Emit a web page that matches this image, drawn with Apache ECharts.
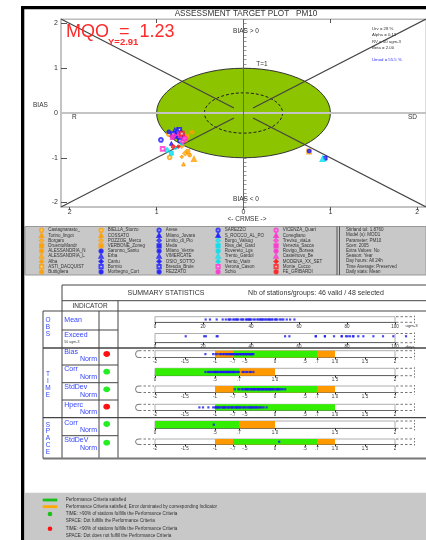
<!DOCTYPE html>
<html><head><meta charset="utf-8">
<script src="https://cdn.jsdelivr.net/npm/echarts@6/dist/echarts.min.js"></script>
<style>html,body{margin:0;padding:0;background:#fff}#c{width:426px;height:540px}</style>
</head><body><div id="c"></div>
<script>
// ---------------- DATA ----------------
const stationNames = ['Castagnarasto_','Torino_lingot','Borgaro','DruentoMandr','ALESSANDRIA_N','ALESSANDRIA_L','Alba','ASTI_DACQUIST','Buttigliera',
 'BIELLA_Sturzo','COSSATO','POZZOE_Mercu','VERBONE_Zoneg','Saronno_Santu','Erba','Cantu','Bormio','Morbegno_Cort',
 'Arese','Milano_Juvara','Limito_di_Pio','Meda','Milano_Verzie','VIMERCATE','OSIO_SOTTO','Brescia_Broie','REZZATO',
 'SAREZZO','S_ROCCO_AL_PO','Borgo_Valsug','Riva_del_Gard','Rovereto_Lgs','Trento_Gardol','Trento_Viaitr','Verona_Cason','Schio',
 'VICENZA_Quart','Conegliano','Treviso_viaLa','Venezia_Sacca','Rovigo_Borsea','Castelnovo_Be','MODENA_XX_SET','Monte_Cucco','FE_GRIBARDI'];
const stationRegion = ['PIE','PIE','PIE','PIE','PIE','PIE','PIE','PIE','PIE',
 'PIE','PIE','PIE','PIE','LOM','LOM','LOM','LOM','LOM',
 'LOM','LOM','LOM','LOM','LOM','LOM','LOM','LOM','LOM',
 'LOM','LOM','TAA','TAA','TAA','TAA','TAA','VEN','VEN',
 'VEN','VEN','VEN','VEN','VEN','VEN','EMR','EMR','EMR'];
// target plot: CRMSE (x, negative = R side) and BIAS (y)
const targetCRMSE = [-0.85,-0.69,-0.67,-0.64,-0.62,-0.57,-0.71,0.755,-0.59,
 -0.86,-0.67,-0.71,-0.65,-0.86,-0.79,-0.77,-0.74,-0.72,
 -0.95,-0.83,-0.79,0.94,0.755,-0.76,-0.70,-0.81,-0.75,
 -0.73,-0.69,-0.88,-0.83,-0.71,0.91,-0.78,-0.93,-0.80,
 -0.67,-0.75,-0.70,-0.82,-0.73,-0.68,-0.75,-0.71,-0.81];
const targetBIAS = [-0.99,-1.14,-0.90,-0.86,-0.94,-1.03,-0.98,-0.86,-0.43,
 -0.47,-0.60,-0.73,-0.52,-0.42,-0.40,-0.44,-0.38,-0.43,
 -0.60,-0.68,-0.52,-1.01,-0.85,-0.40,-0.47,-0.47,-0.55,
 -0.62,-0.50,-0.83,-0.90,-0.68,-1.03,-0.78,-0.80,-0.50,
 -0.57,-0.46,-0.64,-0.55,-0.52,-0.55,-0.75,-0.46,-0.75];
const targetAxisTicks = [-2,-1,0,1,2];
const targetGuides = [[[-2.1,2.1],[-0.11,0.11]],[[2.1,2.1],[0.11,0.11]],[[-2.1,-2.1],[-0.11,-0.11]],[[2.1,-2.1],[0.11,-0.11]]];
const targetCircles = [[0,0,1],[0,0,0.45]];

const meanValues = [21.1,22.9,25.7,28.2,29.5,30.6,31.0,31.5,32.6,33.1,33.8,34.2,34.7,35.8,36.4,36.8,37.9,38.3,38.9,39.6,40.0,41.0,41.6,42.6,43.1,43.8,44.2,44.7,45.1,45.8,46.4,47.0,47.6,47.9,48.6,49.0,50.0,50.4,51.0,52.1,52.8,53.5,54.9,56.3,58.1,39.2];
const exceedValues = [12.8,20.5,21.2,25.7,26.1,54.2,56.0,67.0,70.8,74.6,77.8,79.6,80.3,81.3,82.6,84.7,86.8,91.0,95.0,99.3,104.6,70.8,82.6,67.0,77.8];
const biasValues = [-1.16,-1.03,-0.99,-0.96,-0.92,-0.9,-0.87,-0.85,-0.82,-0.81,-0.79,-0.77,-0.76,-0.73,-0.72,-0.71,-0.69,-0.68,-0.66,-0.65,-0.63,-0.62,-0.61,-0.59,-0.58,-0.57,-0.56,-0.54,-0.53,-0.52,-0.51,-0.49,-0.48,-0.47,-0.46,-0.44,-0.43,-0.42,-0.41,-0.4,-0.39,-0.38,-0.37,-0.36,-0.64,-0.74];
const corrValues = [0.42,0.44,0.46,0.47,0.48,0.49,0.5,0.51,0.52,0.53,0.54,0.55,0.56,0.57,0.58,0.59,0.6,0.6,0.61,0.62,0.63,0.63,0.64,0.65,0.65,0.66,0.67,0.68,0.69,0.7,0.55,0.52,0.58,0.62,0.5,0.66,0.61,0.57,0.73,0.74,0.76,0.77,0.79,0.8,0.82,0.45];
const stdValues = [-0.67,-0.61,-0.59,-0.55,-0.53,-0.5,-0.48,-0.47,-0.44,-0.41,-0.4,-0.37,-0.35,-0.34,-0.31,-0.29,-0.27,-0.26,-0.23,-0.21,-0.2,-0.17,-0.15,-0.14,-0.12,-0.09,-0.08,-0.05,-0.03,-0.02,0.01,0.03,0.06,0.07,0.1,0.13,0.17,-0.24,-0.33,-0.19,-0.07,0.04,-0.45,-0.28,-0.11,-0.38];
const hpercValues = [-1.26,-1.2,-1.11,-1.03,-1.0,-0.98,-0.95,-0.93,-0.91,-0.88,-0.86,-0.83,-0.81,-0.78,-0.77,-0.74,-0.71,-0.69,-0.66,-0.65,-0.62,-0.6,-0.58,-0.53,-0.51,-0.49,-0.46,-0.44,-0.42,-0.39,-0.37,-0.35,-0.33,-0.3,-0.27,-0.25,-0.22,-0.19,-0.14,-0.72,-0.85,-0.56,-0.4,-0.97,-0.63,-0.31];
const spaceCorrValues = [0.49];
const spaceStdValues = [0.07];

const biasBands = [[-1,1,'dominated'],[-0.7,0.7,'satisfied']];
const corrBands = [[0.7,1,'dominated'],[0,0.7,'satisfied']];
const stdBands = [[-1,1,'dominated'],[-0.7,0.7,'satisfied']];
const hpercBands = [[-1,1,'satisfied']];

const meanTicks = [0,20,40,60,80,100];
const normTicks = [-2,-1.5,-1,-0.7,-0.5,0,0.5,0.7,1,1.5,2];
const corrTicks = [0,0.5,0.7,1,1.5,2];

const indicatorStatus = ['fail','ok','ok','fail','ok','ok'];
const infoLines = ['Stirland tol: 1.8760','Model (s): MOD1','Parameter: PM10','Scen: 2005','Extra Values: No','Season: Year','Day hours: All 24h','Time Average: Preserved','Daily stats: Mean'];
const paramLines = ['Urv = 28 %','Alpha = 0.13','RV = 50 ugm-3','Beta = 2.00'];
const umodLine = 'Umod = 55.5 %';

// ---------------- STYLE / LAYOUT ----------------
const FONT = '"Liberation Sans", Arial, Helvetica, sans-serif';
const regionColor = {PIE:'#ff9f00', LOM:'#1a1aff', TAA:'#00e0f0', VEN:'#ff2fd0', EMR:'#ff1a1a'};
const symbolCycle = ['emptyCircle','triangle','emptyDiamond','rect','circle','emptyTriangle','diamond','emptyRect','circle'];
const bandColor = {satisfied:'#33ee00', dominated:'#ff9900'};
const BLUE = '#3344ff';

const rows = [
  {values:meanValues, bands:[], ticks:meanTicks, min:0, max:100, top:316.7, h:5.6, dotY:0.5, unit:'ugm-3', left:false},
  {values:exceedValues, bands:[], ticks:meanTicks, min:0, max:100, top:333.5, h:9.2, dotY:0.7, unit:'days', left:false},
  {values:biasValues, bands:biasBands, ticks:normTicks, min:-2, max:2, top:350.7, h:6.8, dotY:0.5, left:true},
  {values:corrValues, bands:corrBands, ticks:corrTicks, min:0, max:2, top:368.3, h:7.4, dotY:0.5, left:false},
  {values:stdValues, bands:stdBands, ticks:normTicks, min:-2, max:2, top:386, h:6.5, dotY:0.5, left:true},
  {values:hpercValues, bands:hpercBands, ticks:normTicks, min:-2, max:2, top:404.3, h:6.2, dotY:0.5, left:true},
  {values:spaceCorrValues, bands:corrBands, ticks:corrTicks, min:0, max:2, top:421, h:7.3, dotY:0.5, left:false},
  {values:spaceStdValues, bands:stdBands, ticks:normTicks, min:-2, max:2, top:439, h:5.5, dotY:0.5, left:true}
];

function tickLabel(v){
  if (Math.abs(v) >= 10) return String(v);
  if (v === 1) return '1.0';
  const s = String(Math.round(v*10)/10);
  return s.replace(/^(-?)0\./, '$1.');
}

const grids = [{left:61, top:19, width:372, height:188, show:true, borderColor:'#bbb', borderWidth:1, backgroundColor:'#fff'}];
const xAxes = [
  {gridIndex:0, type:'value', min:-2.1, max:2.1, position:'bottom',
   axisLine:{show:true, onZero:false, lineStyle:{color:'#bbb', width:1.5}},
   axisTick:{show:true, customValues:targetAxisTicks, length:3, lineStyle:{color:'#555'}},
   axisLabel:{customValues:targetAxisTicks, formatter:v=>String(Math.abs(v)), fontSize:7, color:'#333', margin:2, fontFamily:FONT},
   splitLine:{show:false}},
  {gridIndex:0, type:'value', min:-2.1, max:2.1, position:'top',
   axisLine:{show:true, onZero:false, lineStyle:{color:'#bbb'}},
   axisTick:{show:true, customValues:[-1,1], inside:true, length:4, lineStyle:{color:'#555'}},
   axisLabel:{show:false}, splitLine:{show:false}}
];
const yAxes = [
  {gridIndex:0, type:'value', min:-2.1, max:2.1, position:'left',
   axisLine:{show:true, onZero:false, lineStyle:{color:'#bbb', width:1.5}},
   axisTick:{show:true, customValues:targetAxisTicks, inside:true, length:6, lineStyle:{color:'#555'}},
   axisLabel:{customValues:targetAxisTicks, fontSize:7, color:'#333', margin:3, fontFamily:FONT},
   splitLine:{show:false}},
  {gridIndex:0, type:'value', min:-2.1, max:2.1, interval:0.1, position:'left', offset:0,
   axisLine:{show:false}, axisTick:{show:true, inside:true, length:3, lineStyle:{color:'#999'}},
   axisLabel:{show:false}, splitLine:{show:false}}
];

const series = [];
// target circles
series.push({type:'custom', xAxisIndex:0, yAxisIndex:0, silent:true, z:1, data:[targetCircles[0]],
  renderItem:(p,api)=>{const c=api.coord([api.value(0),api.value(1)]); const s=api.size([api.value(2),api.value(2)]);
    return {type:'ellipse', shape:{cx:c[0],cy:c[1],rx:s[0],ry:s[1]}, style:{fill:'#8cc400', stroke:'#333', lineWidth:1}};}});
series.push({type:'custom', xAxisIndex:0, yAxisIndex:0, silent:true, z:1, data:[targetCircles[1]],
  renderItem:(p,api)=>{const c=api.coord([api.value(0),api.value(1)]); const s=api.size([api.value(2),api.value(2)]);
    return {type:'ellipse', shape:{cx:c[0],cy:c[1],rx:s[0],ry:s[1]}, style:{fill:null, stroke:'#222', lineWidth:1, lineDash:[3,2]}};}});
// zero lines
series.push({type:'line', xAxisIndex:0, yAxisIndex:0, data:[], silent:true, z:1,
  markLine:{silent:true, symbol:'none', animation:false, label:{show:false},
    data:[{yAxis:0, lineStyle:{color:'#c4c4c4', width:2, type:'solid'}},
          {xAxis:0, lineStyle:{color:'#666', width:1, type:'solid'}}]}});
// guides
targetGuides.forEach(g=>series.push({type:'line', xAxisIndex:0, yAxisIndex:0, data:g, symbol:'none', silent:true, z:2,
  lineStyle:{color:'#444', width:1.2}, animation:false}));
// stations
stationNames.forEach((n,i)=>{
  const reg = stationRegion[i];
  const idxInCol = i % 9;
  series.push({type:'scatter', name:n, xAxisIndex:0, yAxisIndex:0, z:3,
    data:[[targetCRMSE[i], targetBIAS[i]]], symbol:symbolCycle[idxInCol], symbolSize:3.8,
    itemStyle:{color:regionColor[reg], borderColor:regionColor[reg], borderWidth:1}});
});

// summary rows
rows.forEach((r,k)=>{
  const gi = k+1, ai = k+2;
  grids.push({left:155, top:r.top, width:240, height:r.h, show:true, borderColor:'#999', borderWidth:0.8, backgroundColor:'#fff'});
  xAxes.push({gridIndex:gi, type:'value', min:r.min, max:r.max, position:'bottom',
    axisLine:{show:true, onZero:false, lineStyle:{color:'#666', width:1}},
    axisTick:{show:true, customValues:r.ticks, length:2, lineStyle:{color:'#222'}},
    axisLabel:{customValues:r.ticks, formatter:tickLabel, fontSize:4.5, color:'#333', margin:1.5, fontFamily:FONT},
    splitLine:{show:false}});
  yAxes.push({gridIndex:gi, type:'value', min:0, max:1, show:false});
  if (r.bands.length) series.push({type:'custom', xAxisIndex:ai, yAxisIndex:ai, silent:true, z:1,
    data:r.bands.map(b=>[b[0],b[1]]),
    renderItem:(p,api)=>{const a=api.coord([api.value(0),1]); const b=api.coord([api.value(1),0]);
      const t = r.bands[p.dataIndex][2];
      return {type:'rect', shape:{x:a[0],y:a[1],width:b[0]-a[0],height:b[1]-a[1]}, style:{fill:bandColor[t]}};}});
  series.push({type:'scatter', xAxisIndex:ai, yAxisIndex:ai, z:3, clip:false, silent:true,
    data:r.values.map(v=>[v, r.dotY]), symbol:'rect', symbolSize:[2.2,2.2], itemStyle:{color:'#1c1cf0'}});
});

// legends (5 columns)
const legendCols = [39, 98.5, 156.5, 215.5, 273.5];
const legends = legendCols.map((x,c)=>({orient:'vertical', left:x, top:227.6, padding:0, itemGap:0,
  itemWidth:3.2, itemHeight:3.2, selectedMode:false, data:stationNames.slice(c*9, c*9+9),
  textStyle:{fontSize:4.5, lineHeight:4.9, color:'#333', fontFamily:FONT}}));

// ---------------- GRAPHIC DECORATION ----------------
const G = [];
function T(text,x,y,o){o=o||{}; G.push({type:'text', z:o.z||5, style:{text:text, x:x, y:y, fill:o.color||'#333',
  font:(o.bold?'bold ':'')+(o.size||6)+'px '+FONT, align:o.align||'left', verticalAlign:'middle'}});}
function L(x1,y1,x2,y2,o){o=o||{}; G.push({type:'line', z:o.z||4, shape:{x1,y1,x2,y2}, style:{stroke:o.color||'#444', lineWidth:o.w||1, lineDash:o.dash||null}});}
function R(x,y,w,h,fill,o){o=o||{}; G.push({type:'rect', z:o.z||0, shape:{x,y,width:w,height:h}, style:{fill:fill, stroke:o.stroke||null, lineWidth:o.w||1}});}

// frame
R(21,6,405,3.3,'#000',{z:6}); R(21,6,3.3,534,'#000',{z:6});
T('ASSESSMENT TARGET PLOT   PM10', 246, 14, {size:8.2, align:'center', color:'#333'});
T('MQO  =  1.23', 66, 32, {size:18, color:'#ff2a2a'});
T('Y=2.91', 108, 42.5, {size:9.5, bold:true, color:'#ff2a2a'});
T('BIAS > 0', 246, 31, {size:6.5, align:'center'});
T('T=1', 262, 64, {size:6.5, align:'center'});
T('R', 72, 117.5, {size:6.5});
T('SD', 408, 117.5, {size:6.5});
T('BIAS < 0', 246, 199, {size:6.5, align:'center'});
T('<- CRMSE ->', 247, 219, {size:6.5, align:'center'});
T('BIAS', 33, 105, {size:6.5});
paramLines.forEach((s,i)=>T(s, 372, 29+i*6.3, {size:4.3}));
T(umodLine, 372, 60, {size:4.3, color:'#3333ff'});

// legend band
R(25,226.5,401,48.5,'#c8c8c8',{stroke:'#999', w:1});
L(337,226.5,337,275,{color:'#555'}); L(339.5,226.5,339.5,275,{color:'#555'});
infoLines.forEach((s,i)=>T(s, 346, 230+i*5.2, {size:4.5}));

// summary table
L(62,285,426,285); L(62,300.7,426,300.7); L(43,311,426,311);
L(62,285,62,458.5); L(118,300.7,118,458.5); L(43,311,43,458.5); L(99,311,99,458.5);
[330,365,382.7,400,435.7].forEach(y=>L(62,y,118,y));
L(43,348,426,348,{w:1.3}); L(43,417.7,426,417.7,{w:1.3}); L(43,458.5,426,458.5,{w:2,color:'#777'});
T('SUMMARY STATISTICS', 166, 293.3, {size:7, align:'center'});
T('Nb of stations/groups: 46 valid / 48 selected', 316, 293.3, {size:7, align:'center'});
T('INDICATOR', 90, 305.8, {size:6.5, align:'center'});
// group letters
['O','B','S'].forEach((c,i)=>T(c, 48, 320.7+i*6.8, {size:6.5, color:BLUE, align:'center'}));
['T','I','M','E'].forEach((c,i)=>T(c, 48, 374.5+i*6.8, {size:6.5, color:BLUE, align:'center'}));
['S','P','A','C','E'].forEach((c,i)=>T(c, 48, 425+i*6.7, {size:6.5, color:BLUE, align:'center'}));
// row names
T('Mean', 64.3, 320, {size:7, color:BLUE});
T('Exceed', 64.3, 335, {size:7, color:BLUE});
T('50 ugm-3', 64.3, 341.5, {size:3.6, color:'#444'});
const rowNames = [['Bias',351.7,359.3],['Corr',369.3,376.7],['StdDev',387.3,394.7],['Hperc',405,412.3],['Corr',422.7,430],['StdDeV',440,447.7]];
rowNames.forEach(r=>{T(r[0],64.3,r[1],{size:7,color:BLUE}); T('Norm',97,r[2],{size:7,color:BLUE,align:'right'});});
// status dots
const statusY = [354,371.7,389.3,406.7,424,442.7];
indicatorStatus.forEach((s,i)=>G.push({type:'ellipse', z:5, shape:{cx:106.7, cy:statusY[i], rx:3.4, ry:2.9},
  style:{fill: s==='ok' ? '#22ee22' : '#ff1010'}}));
// row extensions
rows.forEach(r=>{
  const y1=r.top, y2=r.top+r.h;
  L(396,y1,412,y1,{color:'#777',dash:[2.5,2]}); L(396,y2,412,y2,{color:'#777',dash:[2.5,2]});
  L(414.5,y1-1,414.5,y2+2,{color:'#777',dash:[1.5,1.5]});
  if (r.left){
    L(139,y1,154,y1,{color:'#777',dash:[2.5,2]}); L(139,y2,154,y2,{color:'#777',dash:[2.5,2]});
    G.push({type:'polyline', z:4, shape:{points:[[139,y1],[136.5,y1+0.5],[135.5,(y1+y2)/2],[136.5,y2-0.5],[139,y2]]}, style:{stroke:'#777', lineWidth:1, fill:null}});
  }
  if (r.unit) T(r.unit, 405.5, y2+4, {size:4.3});
});

// bottom legend
R(25,492.7,401,48,'#c8c8c8');
R(42.7,498.6,14.6,2.8,'#19c019',{z:5}); R(42.7,505.3,14.6,2.8,'#ffaa00',{z:5});
G.push({type:'circle', z:5, shape:{cx:50,cy:514,r:2.3}, style:{fill:'#19c019'}});
G.push({type:'circle', z:5, shape:{cx:50,cy:528.8,r:2.3}, style:{fill:'#ff1010'}});
const legTexts = ['Performance Criteria satisfied','Performance Criteria satisfied; Error dominated by corresponding Indicator',
 'TIME: >90% of stations fulfills the Performance Criteria','SPACE: Dot fulfills the Performance Criteria',
 'TIME: <90% of stations fulfills the Performance Criteria','SPACE: Dot does not fulfill the Performance Criteria'];
const legY = [500,506.7,513.8,521.1,528.4,535.7];
legTexts.forEach((s,i)=>T(s, 65.7, legY[i], {size:4.6}));

const chart = echarts.init(document.getElementById('c'));
chart.setOption({
  animation:false,
  backgroundColor:'#fff',
  textStyle:{fontFamily:FONT},
  grid:grids, xAxis:xAxes, yAxis:yAxes, series:series, legend:legends,
  graphic:{elements:G}
});
</script>
</body></html>
